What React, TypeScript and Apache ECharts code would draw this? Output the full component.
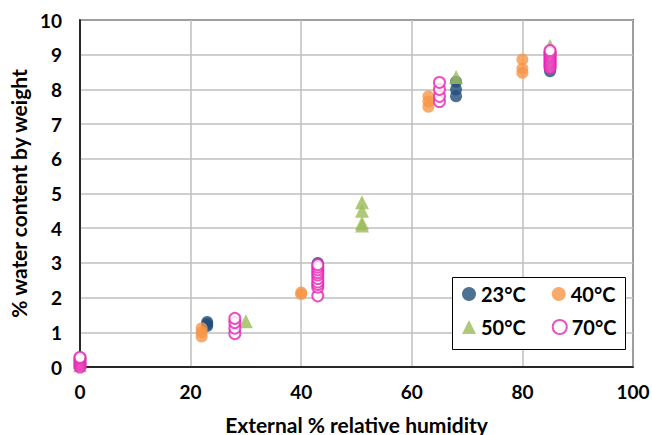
import React, { useEffect, useRef } from "react";
import * as echarts from "echarts";

const seriesNames = ["23°C", "40°C", "50°C", "70°C"];
const seriesColors = ["#1f4e79", "#f79646", "#9bbb59", "#e626b0"];

const data23: number[][] = [
  [0, 0.05], [0, 0.15],
  [23, 1.18], [23, 1.24], [23, 1.3],
  [43, 2.85], [43, 2.95], [43, 3.0],
  [68, 7.8], [68, 8.0], [68, 8.22],
  [85, 8.52], [85, 8.62], [85, 8.72],
];
const data40: number[][] = [
  [0, 0.05], [0, 0.2],
  [22, 0.88], [22, 1.0], [22, 1.12],
  [40, 2.1], [40, 2.15],
  [63, 7.5], [63, 7.65], [63, 7.8],
  [80, 8.48], [80, 8.6], [80, 8.86],
];
const data50: number[][] = [
  [0, 0.05], [0, 0.15],
  [30, 1.32],
  [51, 4.08], [51, 4.15], [51, 4.5], [51, 4.75],
  [68, 8.36],
  [85, 9.25],
];
const data70: number[][] = [
  [0, 0.0], [0, 0.05], [0, 0.1], [0, 0.15], [0, 0.2], [0, 0.25], [0, 0.28],
  [28, 0.96], [28, 1.12], [28, 1.28], [28, 1.4],
  [43, 2.05], [43, 2.3], [43, 2.38], [43, 2.45], [43, 2.55], [43, 2.65], [43, 2.72], [43, 2.8], [43, 2.88], [43, 2.95],
  [65, 7.65], [65, 7.8], [65, 8.0], [65, 8.2],
  [85, 8.62], [85, 8.67], [85, 8.72], [85, 8.77], [85, 8.82], [85, 8.87], [85, 8.92], [85, 8.97], [85, 9.02], [85, 9.07], [85, 9.12],
];

const xTicks = { min: 0, max: 100, interval: 20 };
const yTicks = { min: 0, max: 10, interval: 1 };

const FONT = "Lato, 'Open Sans', sans-serif";

export default function App() {
  const ref = useRef<HTMLDivElement>(null);
  useEffect(() => {
    if (!ref.current) return;
    const chart = echarts.init(ref.current, undefined, { renderer: "svg" });
    const symbols = ["circle", "circle", "triangle", "emptyCircle"];
    const datasets = [data23, data40, data50, data70];
    const legendBase = {
      orient: "horizontal",
      left: 462,
      padding: 0,
      itemGap: 26,
      itemWidth: 14,
      itemHeight: 14,
      z: 10,
      textStyle: { fontFamily: FONT, fontWeight: "bold", fontSize: 20, color: "#000" },
    };
    const legendItem = (i: number) => ({
      name: seriesNames[i],
      icon: i === 3 ? "emptyCircle" : symbols[i],
    });
    chart.setOption({
      animation: false,
      backgroundColor: "#ffffff",
      textStyle: { fontFamily: FONT },
      grid: {
        left: 80,
        right: 19,
        top: 20,
        bottom: 68,
        containLabel: false,
        outerBoundsMode: "none",
        show: true,
        borderColor: "#000",
        borderWidth: 1.5,
      },
      graphic: [
        {
          type: "rect",
          z: 8,
          shape: { x: 452.5, y: 277.5, width: 173, height: 72 },
          style: { fill: "#fff", stroke: "#000", lineWidth: 1 },
        },
      ],
      legend: [
        { ...legendBase, top: 284, data: [legendItem(0), legendItem(1)] },
        { ...legendBase, top: 317, data: [legendItem(2), legendItem(3)] },
      ],
      xAxis: {
        type: "value",
        min: xTicks.min,
        max: xTicks.max,
        interval: xTicks.interval,
        name: "External % relative humidity",
        nameLocation: "middle",
        nameGap: 47,
        nameTextStyle: { fontFamily: FONT, fontWeight: "bold", fontSize: 21, color: "#000" },
        axisLine: { lineStyle: { color: "#000", width: 1.5 } },
        axisTick: { show: false },
        axisLabel: { fontFamily: FONT, fontWeight: "bold", fontSize: 19, color: "#000", margin: 15 },
        splitLine: { show: true, lineStyle: { color: "#bfbfbf", width: 1.5 } },
      },
      yAxis: {
        type: "value",
        min: yTicks.min,
        max: yTicks.max,
        interval: yTicks.interval,
        name: "% water content by weight",
        nameLocation: "middle",
        nameGap: 49,
        nameTextStyle: { fontFamily: FONT, fontWeight: "bold", fontSize: 21, color: "#000" },
        axisLine: { show: true, lineStyle: { color: "#000", width: 1.5 } },
        axisTick: { show: false },
        axisLabel: { fontFamily: FONT, fontWeight: "bold", fontSize: 19, color: "#000", margin: 18 },
        splitLine: { show: true, lineStyle: { color: "#bfbfbf", width: 1.5 } },
      },
      series: datasets.map((d, i) => ({
        name: seriesNames[i],
        type: "scatter",
        data: d,
        symbol: symbols[i],
        symbolSize: i === 2 ? 14 : i === 3 ? 11 : 12,
        itemStyle:
          i === 3
            ? { color: seriesColors[i], borderColor: seriesColors[i], borderWidth: 2.2 }
            : { color: seriesColors[i] },
        clip: false,
      })),
    });
    return () => chart.dispose();
  }, []);
  return (
    <div
      ref={ref}
      style={{ position: "absolute", left: 0, top: 0, width: 652, height: 435 }}
    />
  );
}
